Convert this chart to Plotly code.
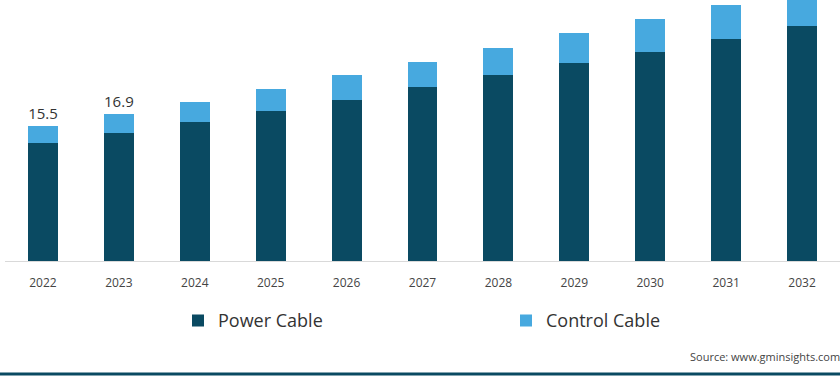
import plotly.graph_objects as go

years = ["2022", "2023", "2024", "2025", "2026", "2027", "2028", "2029", "2030", "2031", "2032"]
power_cable = [13.6, 14.8, 16.05, 17.3, 18.6, 20.0, 21.4, 22.8, 24.1, 25.6, 27.1]
control_cable = [1.9, 2.1, 2.3, 2.5, 2.8, 2.9, 3.15, 3.45, 3.8, 3.95, 4.3]
total_labels = ["15.5", "16.9", "", "", "", "", "", "", "", "", ""]

POWER_COLOR = "#0a4a62"
CONTROL_COLOR = "#47a9df"
FONT = "Open Sans"

fig = go.Figure()
fig.add_trace(go.Bar(
    x=years, y=power_cable, name="Power Cable",
    marker=dict(color=POWER_COLOR, line=dict(width=0)),
    hoverinfo="skip",
))
fig.add_trace(go.Bar(
    x=years, y=control_cable, name="Control Cable",
    marker=dict(color=CONTROL_COLOR, line=dict(width=0)),
    text=total_labels, textposition="outside", cliponaxis=False,
    textfont=dict(family=FONT, size=15, color="#333333"),
    hoverinfo="skip",
))

W, H = 840, 391
ml, mr, mt, mb = 5, 0, 0, 130
plot_w = W - ml - mr
plot_h = H - mt - mb

def px_to_paper_x(px):
    return (px - ml) / plot_w

def px_to_paper_y(py):
    return (H - mb - py) / plot_h

fig.update_layout(
    width=W, height=H,
    margin=dict(l=ml, r=mr, t=mt, b=mb, pad=0, autoexpand=False),
    barmode="stack",
    bargap=0.605,
    plot_bgcolor="white",
    paper_bgcolor="white",
    font=dict(family=FONT, color="#444444"),
    showlegend=True,
    legend=dict(
        orientation="h",
        x=px_to_paper_x(178), xanchor="left",
        y=px_to_paper_y(320.7), yanchor="middle",
        entrywidth=283, entrywidthmode="pixels",
        font=dict(family=FONT, size=18, color="#333333"),
        traceorder="normal",
        bgcolor="rgba(0,0,0,0)",
    ),
    xaxis=dict(
        showline=True, linecolor="#d9d9d9", linewidth=1,
        showgrid=False, ticks="",
        tickfont=dict(family=FONT, size=12, color="#444444"),
        ticklabelstandoff=11,
        fixedrange=True,
    ),
    yaxis=dict(
        range=[0, 261 / 8.68],
        showgrid=False, showticklabels=False, zeroline=False, showline=False,
        fixedrange=True,
    ),
    shapes=[dict(
        type="line", xref="paper", yref="paper",
        x0=px_to_paper_x(0), x1=px_to_paper_x(W),
        y0=px_to_paper_y(374), y1=px_to_paper_y(374),
        line=dict(color="#0a4a62", width=3),
    )],
    annotations=[dict(
        text="Source: www.gminsights.com",
        xref="paper", yref="paper",
        x=px_to_paper_x(688), xanchor="left",
        y=px_to_paper_y(356.7), yanchor="middle",
        showarrow=False,
        font=dict(family=FONT, size=11, color="#444444"),
    )],
)

fig.write_html(
    "out.html",
    config={"displayModeBar": False},
    post_script="document.body.style.margin='0';document.body.style.overflow='hidden';",
)
